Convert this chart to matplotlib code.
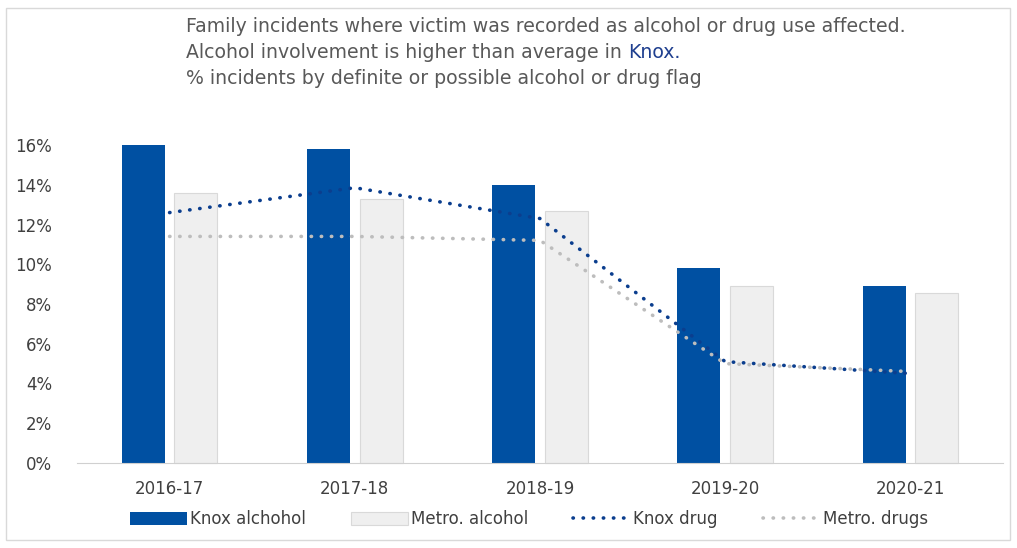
import numpy as np
import matplotlib.pyplot as plt
from matplotlib.patches import Rectangle

# values (%)
years = ['2016-17', '2017-18', '2018-19', '2019-20', '2020-21']
knox_alcohol = [16.0, 15.8, 14.0, 9.8, 8.9]
metro_alcohol = [13.6, 13.3, 12.7, 8.9, 8.55]
knox_drug = [12.6, 13.85, 12.3, 5.1, 4.5]
metro_drugs = [11.4, 11.4, 11.2, 5.0, 4.6]

KNOX_BLUE = '#0050A2'
KNOX_DOT = '#0B3E8E'
METRO_FILL = '#EFEFEF'
METRO_EDGE = '#D9D9D9'
METRO_DOT = '#BDBDBD'
TXT = '#595959'

fig = plt.figure(figsize=(10.17, 5.48), dpi=100)
ax = fig.add_axes([77/1017, 1-463/548, 926/1017, 318/548])

x = np.arange(len(years))
w = 0.232
h1 = ax.bar(x - 0.142, knox_alcohol, w, color=KNOX_BLUE, label='Knox alchohol', zorder=2)
h2 = ax.bar(x + 0.142, metro_alcohol, w, color=METRO_FILL, edgecolor=METRO_EDGE, linewidth=0.8,
            label='Metro. alcohol', zorder=2)
h3, = ax.plot(x, knox_drug, color=KNOX_DOT, lw=2.6, ls=(0, (0.1, 2.7)), dash_capstyle='round',
              label='Knox drug', zorder=3)
h4, = ax.plot(x, metro_drugs, color=METRO_DOT, lw=2.6, ls=(0, (0.1, 2.7)), dash_capstyle='round',
              label='Metro. drugs', zorder=3)

ax.set_xlim(-0.5, len(years) - 0.5)
ax.set_ylim(0, 16)
ax.set_yticks(range(0, 17, 2))
ax.set_yticklabels([f'{v}%' for v in range(0, 17, 2)])
ax.set_xticks(x)
ax.set_xticklabels(years)
ax.tick_params(axis='both', length=0, labelsize=12, colors='#404040')
ax.tick_params(axis='y', pad=18)
ax.tick_params(axis='x', pad=12)
for s in ['top', 'right', 'left']:
    ax.spines[s].set_visible(False)
ax.spines['bottom'].set_color('#D0D0D0')
for b in ax.patches:
    b.set_clip_on(False)

leg = fig.legend([h1, h2, h3, h4], ['Knox alchohol', 'Metro. alcohol', 'Knox drug', 'Metro. drugs'],
                 loc='center left', bbox_to_anchor=(115/1017, 1-519/548), ncol=4, frameon=False,
                 fontsize=12, handlelength=3.4, handleheight=0.8, handletextpad=0.2,
                 columnspacing=2.7, labelcolor='#404040')

# title lines
fig.text(186/1017, 1-27/548, 'Family incidents where victim was recorded as alcohol or drug use affected.',
         fontsize=13.6, color=TXT, va='center')
t2 = fig.text(186/1017, 1-52/548, 'Alcohol involvement is higher than average in ',
              fontsize=13.6, color=TXT, va='center')
fig.text(186/1017, 1-78/548, '% incidents by definite or possible alcohol or drug flag',
         fontsize=13.6, color=TXT, va='center')
fig.canvas.draw()
bb = t2.get_window_extent()
fig.text(bb.x1/fig.bbox.width, 1-52/548, 'Knox.', fontsize=13.6, color='#1F3F8F', va='center')

fig.patches.append(Rectangle((6/1017, 1-540/548), 1004/1017, 532/548, transform=fig.transFigure,
                             fill=False, edgecolor='#D9D9D9', linewidth=1))

fig.savefig('out.png', dpi=100)
